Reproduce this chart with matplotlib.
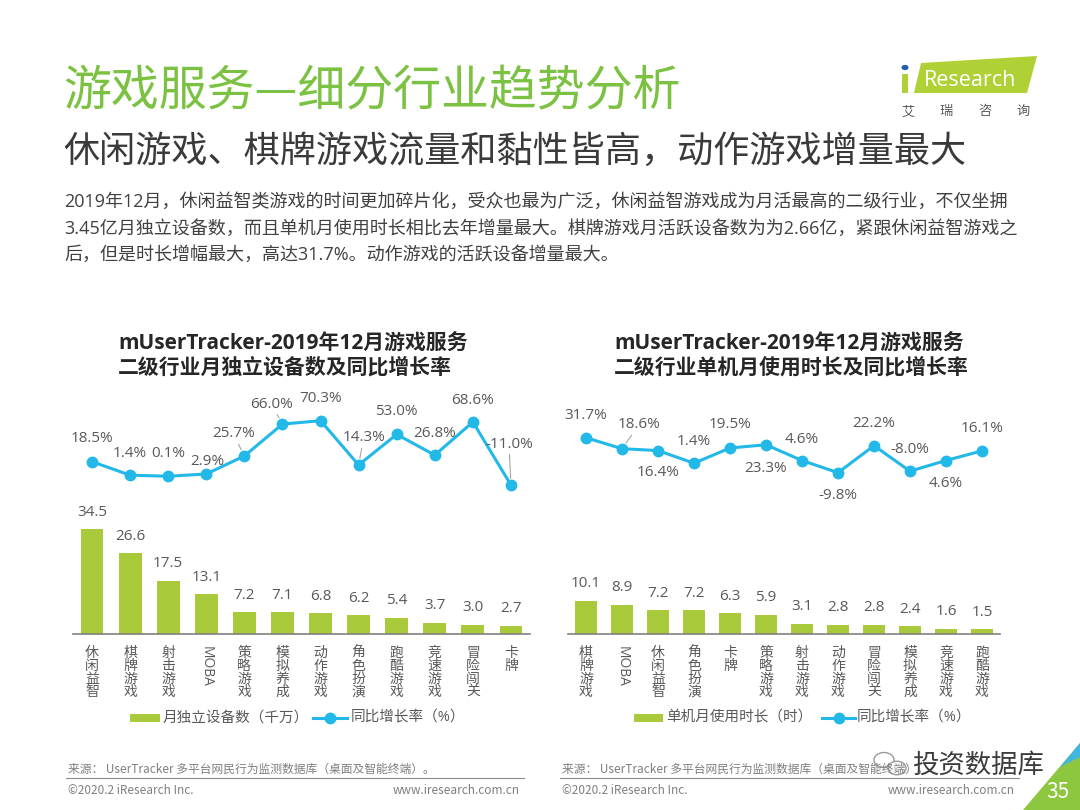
import matplotlib
matplotlib.use('Agg')
import matplotlib.pyplot as plt
from matplotlib.patches import Polygon, Rectangle, Circle
from matplotlib.lines import Line2D

plt.rcParams['font.family'] = ['Open Sans', 'Noto Sans CJK SC', 'DejaVu Sans']

# ---------------- data ----------------
left_categories = ['休闲益智', '棋牌游戏', '射击游戏', 'MOBA', '策略游戏', '模拟养成',
                   '动作游戏', '角色扮演', '跑酷游戏', '竞速游戏', '冒险闯关', '卡牌']
left_devices = [34.5, 26.6, 17.5, 13.1, 7.2, 7.1, 6.8, 6.2, 5.4, 3.7, 3.0, 2.7]
left_growth = [18.5, 1.4, 0.1, 2.9, 25.7, 66.0, 70.3, 14.3, 53.0, 26.8, 68.6, -11.0]

right_categories = ['棋牌游戏', 'MOBA', '休闲益智', '角色扮演', '卡牌', '策略游戏',
                    '射击游戏', '动作游戏', '冒险闯关', '模拟养成', '竞速游戏', '跑酷游戏']
right_hours = [10.1, 8.9, 7.2, 7.2, 6.3, 5.9, 3.1, 2.8, 2.8, 2.4, 1.6, 1.5]
right_growth = [31.7, 18.6, 16.4, 1.4, 19.5, 23.3, 4.6, -9.8, 22.2, -8.0, 4.6, 16.1]

left_title = ['mUserTracker-2019年12月游戏服务', '二级行业月独立设备数及同比增长率']
right_title = ['mUserTracker-2019年12月游戏服务', '二级行业单机月使用时长及同比增长率']
left_bar_label = '月独立设备数（千万）'
right_bar_label = '单机月使用时长（时）'
line_label = '同比增长率（%）'

page_title = '游戏服务—细分行业趋势分析'
page_subtitle = '休闲游戏、棋牌游戏流量和黏性皆高，动作游戏增量最大'
paragraph = ['2019年12月，休闲益智类游戏的时间更加碎片化，受众也最为广泛，休闲益智游戏成为月活最高的二级行业，不仅坐拥',
             '3.45亿月独立设备数，而且单机月使用时长相比去年增量最大。棋牌游戏月活跃设备数为为2.66亿，紧跟休闲益智游戏之',
             '后，但是时长增幅最大，高达31.7%。动作游戏的活跃设备增量最大。']
source_text = '来源： UserTracker 多平台网民行为监测数据库（桌面及智能终端）。'
copyright_text = '©2020.2 iResearch Inc.'
site_text = 'www.iresearch.com.cn'

# ---------------- style ----------------
GREEN = '#A8CA3A'
BLUE = '#22B8E8'
GRAY = '#595959'
W, H = 1080, 810

fig = plt.figure(figsize=(W / 100, H / 100), dpi=100)
fig.patch.set_facecolor('white')


def fx(x):
    return x / W


def fy(y):
    return 1 - y / H


def ftext(x, y, s, **kw):
    kw.setdefault('va', 'center')
    return fig.text(fx(x), fy(y), s, **kw)


# ---------------- header ----------------
ftext(63, 92, page_title, fontsize=34.5, color='#7CC242', family=['Noto Sans CJK SC', 'DejaVu Sans'])
ftext(63, 152, page_subtitle, fontsize=26, color='#3a3a3a', family=['Noto Sans CJK SC', 'DejaVu Sans'])
for k, line in enumerate(paragraph):
    ftext(64, 202 + 26.5 * k, line, fontsize=13, color='#404040')

# logo
fig.add_artist(Polygon([(fx(921), fy(63)), (fx(1037), fy(56)), (fx(1027), fy(93)), (fx(914), fy(93))],
                       closed=True, transform=fig.transFigure, color='#B0D136', lw=0))
fig.add_artist(Rectangle((fx(902), fy(93)), 6 / W, 19 / H, transform=fig.transFigure, color='#B0D136', lw=0))
fig.add_artist(Circle((fx(905), fy(67.5)), 3.5 / W, transform=fig.transFigure, color='#1F5FAE', lw=0))
ftext(970, 80, 'Research', fontsize=15.5, color='white', ha='center')
for ch, x in zip('艾瑞咨询', [908, 946, 985, 1023]):
    ftext(x, 112, ch, fontsize=9.5, color=GRAY, ha='center')


# ---------------- charts ----------------
def draw_chart(x0, x1, cats, bars, rates, px_per_unit, rate_y0, rate_slope,
               offsets, leaders, title_lines, title_x):
    base, top = 634, 390
    h = base - top
    ax = fig.add_axes([fx(x0), fy(base), (x1 - x0) / W, h / H])
    n = len(cats)
    xs = list(range(n))
    ax.bar(xs, bars, width=0.6, color=GREEN, zorder=2)
    ax.set_xlim(-0.5, n - 0.5)
    ax.set_ylim(0, h / px_per_unit)
    for sp in ['top', 'right', 'left']:
        ax.spines[sp].set_visible(False)
    ax.spines['bottom'].set_color('#808080')
    ax.spines['bottom'].set_linewidth(1.2)
    ax.set_yticks([])
    ax.set_xticks([])
    ax.patch.set_alpha(0)
    for i, v in enumerate(bars):
        ax.annotate(f'{v:.1f}', xy=(i, v), xytext=(0, 17), textcoords='offset pixels',
                    ha='center', va='center', fontsize=11, color=GRAY, annotation_clip=False)
    for i, c in enumerate(cats):
        if c.isascii():
            ax.annotate(c, xy=(i, 0), xytext=(0, -12), textcoords='offset pixels', ha='center',
                        va='top', rotation=270, fontsize=10, color=GRAY, annotation_clip=False)
        else:
            for k, ch in enumerate(c):
                ax.annotate(ch, xy=(i, 0), xytext=(0, -19 - 13.1 * k), textcoords='offset pixels',
                            ha='center', va='center', fontsize=10, color=GRAY, annotation_clip=False)
    ax2 = ax.twinx()
    lo = -(base - rate_y0) / rate_slope
    hi = (rate_y0 - top) / rate_slope
    ax2.set_ylim(lo, hi)
    ax2.plot(xs, rates, color=BLUE, lw=2.2, marker='o', ms=7.5, zorder=3, solid_joinstyle='round')
    for sp in ax2.spines.values():
        sp.set_visible(False)
    ax2.set_yticks([])
    for i, (v, (dx, dy)) in enumerate(zip(rates, offsets)):
        arrow = dict(arrowstyle='-', color='#a6a6a6', lw=0.8, shrinkA=0, shrinkB=5) if i in leaders else None
        ax2.annotate(f'{v:.1f}%', xy=(i, v), xytext=(dx, dy), textcoords='offset pixels',
                     ha='center', va='center', fontsize=11, color=GRAY, arrowprops=arrow,
                     annotation_clip=False)
    for k, line in enumerate(title_lines):
        ftext(title_x, 343 + 25 * k, line, fontsize=15, fontweight='bold', color='#262626', ha='left')
    return ax


left_offsets = [(0, 23), (0, 22), (0, 23), (1, 13), (-11, 22), (-11, 20),
                (0, 22), (5, 27), (0, 23), (0, 22), (0, 22), (-2, 41)]
right_offsets = [(0, 22), (17, 24), (0, -22), (0, 22), (0, 23), (0, -24),
                 (0, 21), (0, -23), (0, 22), (0, 22), (0, -23), (0, 22)]

draw_chart(73, 530, left_categories, left_devices, left_growth, 3.04, 476.3, 0.791,
           left_offsets, {4, 5, 7, 11}, left_title, 118)
draw_chart(568, 1000, right_categories, right_hours, right_growth, 3.3, 464.4, 0.843,
           right_offsets, {1}, right_title, 614)


# ---------------- legends ----------------
def draw_legend(p0, p1, t1, l0, l1, t2, label):
    y = 718
    fig.add_artist(Rectangle((fx(p0), fy(y + 4)), (p1 - p0) / W, 8 / H,
                             transform=fig.transFigure, color=GREEN, lw=0))
    ftext(t1, y, label, fontsize=10.5, color=GRAY, ha='left')
    fig.add_artist(Line2D([fx(l0), fx(l1)], [fy(y), fy(y)], transform=fig.transFigure,
                          color=BLUE, lw=2.2))
    fig.add_artist(Line2D([fx((l0 + l1) / 2)], [fy(y)], transform=fig.transFigure,
                          color=BLUE, marker='o', ms=7.5, lw=0))
    ftext(t2, y, line_label, fontsize=10.5, color=GRAY, ha='left')


draw_legend(130, 160, 163, 313, 347, 351, left_bar_label)
draw_legend(634, 663, 666, 822, 855, 857, right_bar_label)

# ---------------- footer ----------------
FG = '#7f7f7f'
for x0, x1 in [(66, 524), (560, 1019)]:
    ftext(x0 + 2, 769, source_text, fontsize=8.5, color=FG, family=['Noto Sans CJK SC', 'DejaVu Sans'])
    fig.add_artist(Line2D([fx(x0), fx(x1)], [fy(778), fy(778)], transform=fig.transFigure,
                          color='#8c8c8c', lw=0.8))
    ftext(x0 + 2, 791, copyright_text, fontsize=8.5, color=FG, family=['Noto Sans CJK SC', 'DejaVu Sans'])
    ftext(x1 - 4, 791, site_text, fontsize=8.5, color=FG, ha='right', family=['Noto Sans CJK SC', 'DejaVu Sans'])

# watermark
fig.add_artist(Circle((fx(884), fy(760)), 10 / W, transform=fig.transFigure,
                      facecolor='white', edgecolor='#9a9a9a', lw=1))
fig.add_artist(Circle((fx(897), fy(768)), 9 / W, transform=fig.transFigure,
                      facecolor='white', edgecolor='#9a9a9a', lw=1))
ftext(912, 765, '投资数据库', fontsize=19, color='#3c3c3c', ha='left', family=['Noto Sans CJK SC', 'DejaVu Sans'])

# page corner
fig.add_artist(Polygon([(fx(1023), fy(810)), (fx(1080), fy(743)), (fx(1080), fy(810))],
                       closed=True, transform=fig.transFigure, color='#8DC63F', lw=0))
fig.add_artist(Polygon([(fx(1060), fy(767)), (fx(1080), fy(743)), (fx(1080), fy(757))],
                       closed=True, transform=fig.transFigure, color='#3FB7E0', lw=0))
ftext(1058, 792, '35', fontsize=15, color='white', ha='center', family=['Noto Sans CJK SC', 'DejaVu Sans'])

fig.savefig('out.png', dpi=100)
